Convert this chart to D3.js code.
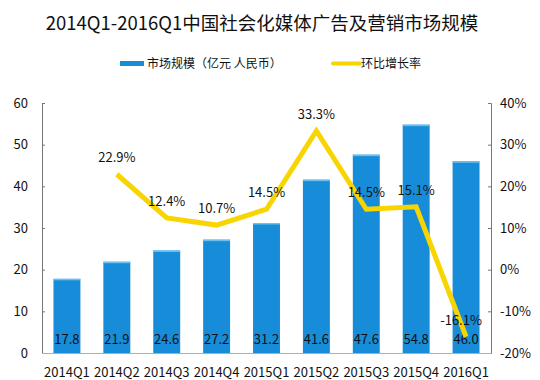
<!DOCTYPE html>
<html>
<head>
<meta charset="utf-8">
<script src="https://cdn.jsdelivr.net/npm/d3@7"></script>
<style>
  body { margin: 0; background: #fff; }
  text { font-family: "Noto Sans CJK SC", "Noto Sans", sans-serif; fill: #111; }
</style>
</head>
<body>
<svg id="chart" width="540" height="380"></svg>
<script>
const quarters = ['2014Q1', '2014Q2', '2014Q3', '2014Q4', '2015Q1', '2015Q2', '2015Q3', '2015Q4', '2016Q1'];
const marketSize = [17.8, 21.9, 24.6, 27.2, 31.2, 41.6, 47.6, 54.8, 46.0];
const growth = [null, 22.9, 12.4, 10.7, 14.5, 33.3, 14.5, 15.1, -16.1];
const leftTicks = [0, 10, 20, 30, 40, 50, 60];
const rightTicks = [-20, -10, 0, 10, 20, 30, 40];

const svg = d3.select('#chart');
const plotLeft = 42, plotRight = 491, plotTop = 103, plotBottom = 353;
const blue = '#178cd8', yellow = '#f8d400';

const x = d3.scaleBand().domain(quarters).range([plotLeft, plotRight]).paddingInner(0.46).paddingOuter(0.23);
const yL = d3.scaleLinear().domain([0, 60]).range([plotBottom, plotTop]);
const yR = d3.scaleLinear().domain([-20, 40]).range([plotBottom, plotTop]);

// title
svg.append('text').attr('x', 262).attr('y', 30).attr('text-anchor', 'middle')
  .style('font-size', '18.5px').style('font-weight', 400)
  .text('2014Q1-2016Q1中国社会化媒体广告及营销市场规模');

// legend
svg.append('rect').attr('x', 120).attr('y', 61).attr('width', 24).attr('height', 5).attr('fill', blue);
svg.append('text').attr('x', 147).attr('y', 68).style('font-size', '12px').text('市场规模（亿元 人民币）');
svg.append('line').attr('x1', 333).attr('x2', 360).attr('y1', 63.5).attr('y2', 63.5)
  .attr('stroke', yellow).attr('stroke-width', 4).attr('stroke-linecap', 'round');
svg.append('text').attr('x', 361).attr('y', 68).style('font-size', '12px').text('环比增长率');

// axes
const axisL = svg.append('g').attr('transform', `translate(${plotLeft},0)`)
  .call(d3.axisLeft(yL).tickValues(leftTicks).tickSize(-3).tickPadding(14));
const axisR = svg.append('g').attr('transform', `translate(${plotRight},0)`)
  .call(d3.axisRight(yR).tickValues(rightTicks).tickSize(-3).tickPadding(9).tickFormat(d => d + '%'));
[axisL, axisR].forEach(a => {
  a.select('.domain').attr('stroke', '#777');
  a.selectAll('.tick line').attr('stroke', '#777');
  a.selectAll('.tick text').style('font-size', '13px').style('font-family', '"Noto Sans CJK SC", sans-serif').attr('fill', '#111');
});

// bars
svg.append('g').selectAll('rect').data(marketSize).join('rect')
  .attr('x', (d, i) => x(quarters[i]))
  .attr('y', d => yL(d))
  .attr('width', x.bandwidth())
  .attr('height', d => plotBottom - yL(d))
  .attr('fill', blue);
svg.append('g').selectAll('rect').data(marketSize).join('rect')
  .attr('x', (d, i) => x(quarters[i]))
  .attr('y', d => yL(d))
  .attr('width', x.bandwidth())
  .attr('height', 1.5)
  .attr('fill', '#6cc0f0');

// baseline
svg.append('line').attr('x1', plotLeft).attr('x2', plotRight).attr('y1', plotBottom + 0.5).attr('y2', plotBottom + 0.5)
  .attr('stroke', '#e0a080').attr('stroke-width', 1);

// bar value labels
svg.append('g').selectAll('text').data(marketSize).join('text')
  .attr('x', (d, i) => x(quarters[i]) + x.bandwidth() / 2)
  .attr('y', 344)
  .attr('text-anchor', 'middle')
  .style('font-size', '13px')
  .text(d => d.toFixed(1));

// x labels
svg.append('g').selectAll('text').data(quarters).join('text')
  .attr('x', d => x(d) + x.bandwidth() / 2)
  .attr('y', 377)
  .attr('text-anchor', 'middle')
  .style('font-size', '13px')
  .text(d => d);

// growth line
const pts = growth.map((g, i) => ({ q: quarters[i], g })).filter(d => d.g !== null);
const line = d3.line().x(d => x(d.q) + x.bandwidth() / 2).y(d => yR(d.g));
svg.append('path').datum(pts).attr('d', line)
  .attr('fill', 'none').attr('stroke', yellow).attr('stroke-width', 5).attr('stroke-linejoin', 'miter');

svg.append('g').selectAll('text').data(pts).join('text')
  .attr('x', d => x(d.q) + x.bandwidth() / 2 + (d.g < 0 ? -5 : 0))
  .attr('y', d => yR(d.g) - 12)
  .attr('text-anchor', 'middle')
  .style('font-size', '13px')
  .text(d => d.g.toFixed(1) + '%');
</script>
</body>
</html>
